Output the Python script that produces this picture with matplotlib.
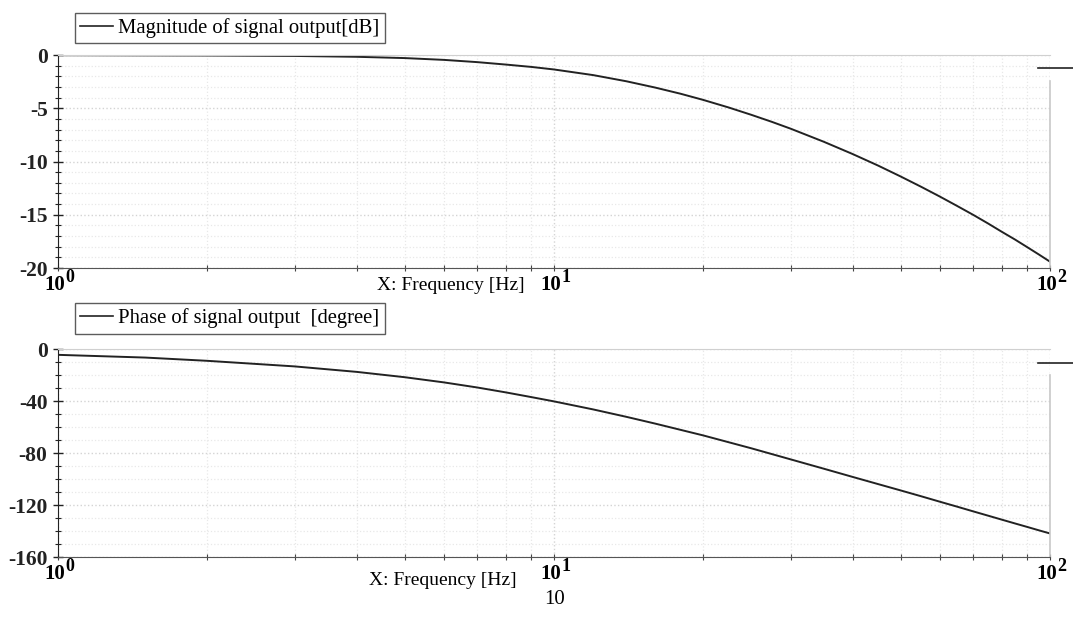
"""Bode-style two-panel plot: magnitude and phase of the signal output vs. frequency."""
import matplotlib.pyplot as plt
from matplotlib.lines import Line2D
from matplotlib.ticker import FixedLocator, MultipleLocator, NullFormatter

plt.rcParams['font.family'] = ['Liberation Serif', 'DejaVu Serif']
plt.rcParams['axes.unicode_minus'] = False

# values
mag_freq = [1, 2, 3, 4, 5, 6, 7, 8, 9, 10, 12, 14, 16, 18, 20, 22.5, 25, 27.5,
            30, 35, 40, 45, 50, 55, 60, 65, 70, 75, 80, 85, 90, 95, 100]
mag_db = [-0.01, -0.04, -0.08, -0.16, -0.28, -0.45, -0.66, -0.89, -1.11, -1.35,
          -1.88, -2.46, -3.05, -3.63, -4.21, -4.92, -5.61, -6.27, -6.91, -8.14,
          -9.29, -10.37, -11.40, -12.37, -13.29, -14.17, -15.0, -15.81, -16.6,
          -17.32, -18.04, -18.73, -19.4]
phase_freq = [1, 1.5, 2, 3, 4, 5, 6, 7, 8, 9, 10, 12, 14, 16, 18, 20, 25, 30, 35,
              40, 45, 50, 55, 60, 65, 70, 75, 80, 85, 90, 95, 100]
phase_deg = [-4.4, -6.5, -9.0, -13.3, -17.5, -21.6, -25.6, -29.5, -33.3, -36.9,
             -40.2, -46.4, -52.1, -57.3, -62.1, -66.4, -76.3, -84.8, -92.0, -98.3,
             -103.8, -108.7, -113.2, -117.4, -121.2, -124.8, -128.1, -131.2,
             -134.1, -136.8, -139.4, -141.8]

mag_label = "Magnitude of signal output[dB]"
phase_label = "Phase of signal output  [degree]"
xlabel = "X: Frequency [Hz]"
decades = [1, 10, 100]
exponents = ["0", "1", "2"]

fig = plt.figure(figsize=(10.73, 6.19), dpi=100)
ax1 = fig.add_axes([0.054, 0.567, 0.9245, 0.344])
ax2 = fig.add_axes([0.054, 0.100, 0.9245, 0.336])


def style(ax, ylim, major, minor, label, right_top, leg_y):
    ax.set_xscale('log')
    ax.set_xlim(1, 100)
    ax.set_ylim(*ylim)
    ax.yaxis.set_major_locator(MultipleLocator(major))
    ax.yaxis.set_minor_locator(MultipleLocator(minor))
    ax.xaxis.set_major_locator(FixedLocator(decades))
    ax.xaxis.set_major_formatter(NullFormatter())
    ax.xaxis.set_minor_formatter(NullFormatter())
    for t in ax.get_yticklabels():
        t.set_fontweight('bold')
    ax.tick_params(axis='y', which='major', direction='inout', length=7, width=1,
                   labelsize=15.5, pad=4, colors='#222222')
    ax.tick_params(axis='y', which='minor', direction='inout', length=4, width=0.8,
                   colors='#222222')
    ax.tick_params(axis='x', which='both', direction='inout', length=5, width=0.8,
                   colors='#444444')
    ax.grid(True, which='major', axis='both', color='#d4d4d4', linestyle=':', linewidth=1.0)
    ax.grid(True, which='minor', axis='both', color='#e8e8e8', linestyle=':', linewidth=0.9)
    ax.spines['left'].set_color('#222222')
    ax.spines['bottom'].set_color('#555555')
    ax.spines['top'].set_color('#d0d0d0')
    ax.spines['right'].set_visible(False)
    # right border starts a little below the top edge
    frac = (right_top - ylim[0]) / (ylim[1] - ylim[0])
    ax.axvline(100, ymin=0, ymax=frac, color='#c8c8c8', linewidth=1.2, clip_on=False)

    # decade labels 10^n in bold serif
    for d, e in zip(decades, exponents):
        ax.annotate("10", xy=(d, 0), xycoords=('data', 'axes fraction'),
                    xytext=(5.5, -5), textcoords='offset points', ha='right', va='top',
                    fontsize=15, fontweight='bold')
        ax.annotate(e, xy=(d, 0), xycoords=('data', 'axes fraction'),
                    xytext=(5.5, -1), textcoords='offset points', ha='left', va='top',
                    fontsize=13, fontweight='bold')

    leg = ax.legend([Line2D([], [], color='#222222', linewidth=1.2)], [label],
                    loc='lower left', bbox_to_anchor=(0.017, leg_y), fontsize=14.9,
                    frameon=True, fancybox=False, edgecolor='#333333',
                    borderpad=0.25, handlelength=1.6, handletextpad=0.25,
                    borderaxespad=0)
    leg.get_frame().set_linewidth(1.0)


ax1.plot(mag_freq, mag_db, color='#222222', linewidth=1.4)
style(ax1, (-20, 0), 5, 1, mag_label, -2.4, 1.056)
ax1.text(0.47, -0.04, xlabel, transform=ax1.transAxes, ha='right', va='top', fontsize=14)

ax2.plot(phase_freq, phase_deg, color='#222222', linewidth=1.4)
style(ax2, (-160, 0), 40, 10, phase_label, -20, 1.075)
ax2.text(0.462, -0.07, xlabel, transform=ax2.transAxes, ha='right', va='top', fontsize=14)

# short stray legend strokes at the right edge
for yy in (1 - 68 / 619, 1 - 363 / 619):
    fig.add_artist(Line2D([1038 / 1073, 1.0], [yy, yy], color='#222222', linewidth=1.2))

fig.text(555 / 1073, 1 - 600 / 619, "10", ha='center', va='center', fontsize=15)

fig.savefig("out.png", dpi=100)
